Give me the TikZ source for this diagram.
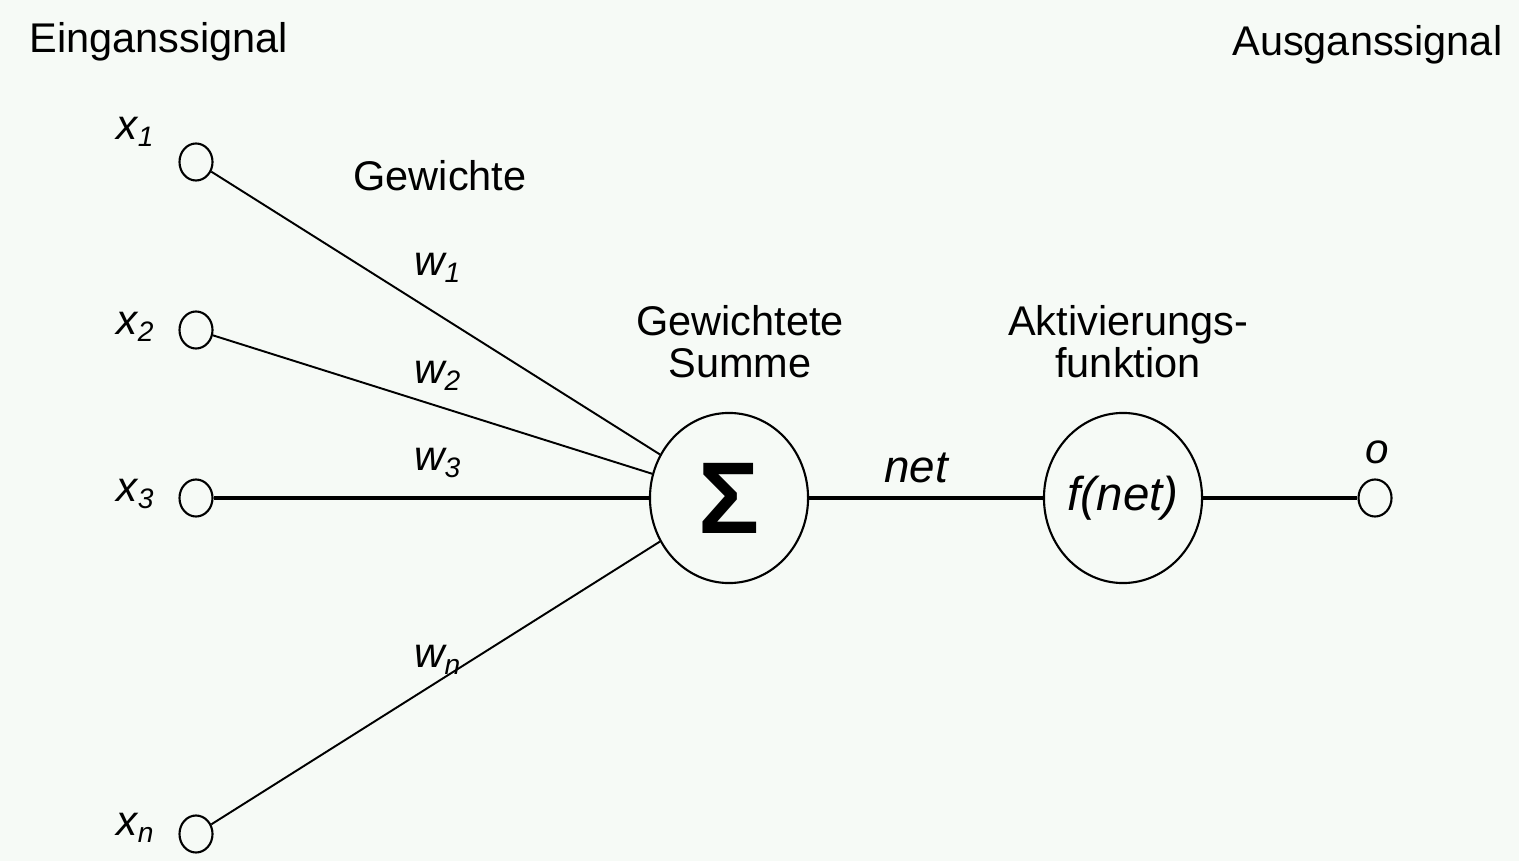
\documentclass[tikz,border=0pt]{standalone}
\usepackage{fontspec}
\setmainfont{Liberation Sans}
\usetikzlibrary{shapes.geometric}
\definecolor{bgcol}{HTML}{F6FAF6}
\tikzset{
  txt/.style={font=\fontsize{11.8}{14}\selectfont, inner sep=0pt},
  lbl/.style={font=\fontsize{12}{14}\selectfont\itshape, inner sep=0pt},
  port/.style={draw, ellipse, line width=0.6pt, minimum width=0.33cm, minimum height=0.37cm, inner sep=0pt},
  unit/.style={draw, ellipse, line width=0.6pt, minimum width=1.58cm, minimum height=1.70cm, inner sep=0pt},
  wire/.style={line width=0.55pt},
  hwire/.style={line width=1pt},
}
\begin{document}
\begin{tikzpicture}[x=0.01cm, y=-0.01cm]
\fill[bgcol] (0,0) rectangle (1519,861);
\useasboundingbox (0,0) rectangle (1519,861);

\node[txt, anchor=west] (ein) at (29,42) {Einganssignal};
\node[txt, anchor=east] (aus) at (1503,45) {Ausganssignal};
\node[txt] (gew) at (440,176) {Gewichte};
\node[txt, align=center] (gs) at (740,342) {Gewichtete\\[-2pt]Summe};
\node[txt, align=center] (ak) at (1128,342) {Aktivierungs-\\[-2pt]funktion};

\node[port] (x1) at (196,162) {};
\node[port] (x2) at (196,330) {};
\node[port] (x3) at (196,498) {};
\node[port] (xn) at (196,834) {};
\node[port] (o) at (1375,498) {};

\node[lbl] (lx1) at (136,132) {x\textsubscript{1}};
\node[lbl] (lx2) at (136,327) {x\textsubscript{2}};
\node[lbl] (lx3) at (136,494) {x\textsubscript{3}};
\node[lbl] (lxn) at (136,828) {x\textsubscript{n}};
\node[lbl] (lo) at (1377,452) {o};

\node[unit] (sum) at (729,498) {\fontsize{29}{30}\selectfont\bfseries Σ};
\node[unit] (act) at (1123,498) {\fontsize{13.5}{16}\selectfont\itshape f(net)};

\draw[wire] (x1) -- (sum);
\draw[wire] (x2) -- (sum);
\draw[hwire] (x3) -- (sum);
\draw[wire] (xn) -- (sum);
\draw[hwire] (sum) -- (act);
\draw[hwire] (act) -- (o);

\node[lbl] (w1) at (438,268) {w\textsubscript{1}};
\node[lbl] (w2) at (438,376) {w\textsubscript{2}};
\node[lbl] (w3) at (438,463) {w\textsubscript{3}};
\node[lbl] (wn) at (438,660) {w\textsubscript{n}};
\node[font=\fontsize{13}{15}\selectfont\itshape, inner sep=0pt] (net) at (916,468) {net};
\end{tikzpicture}
\end{document}
